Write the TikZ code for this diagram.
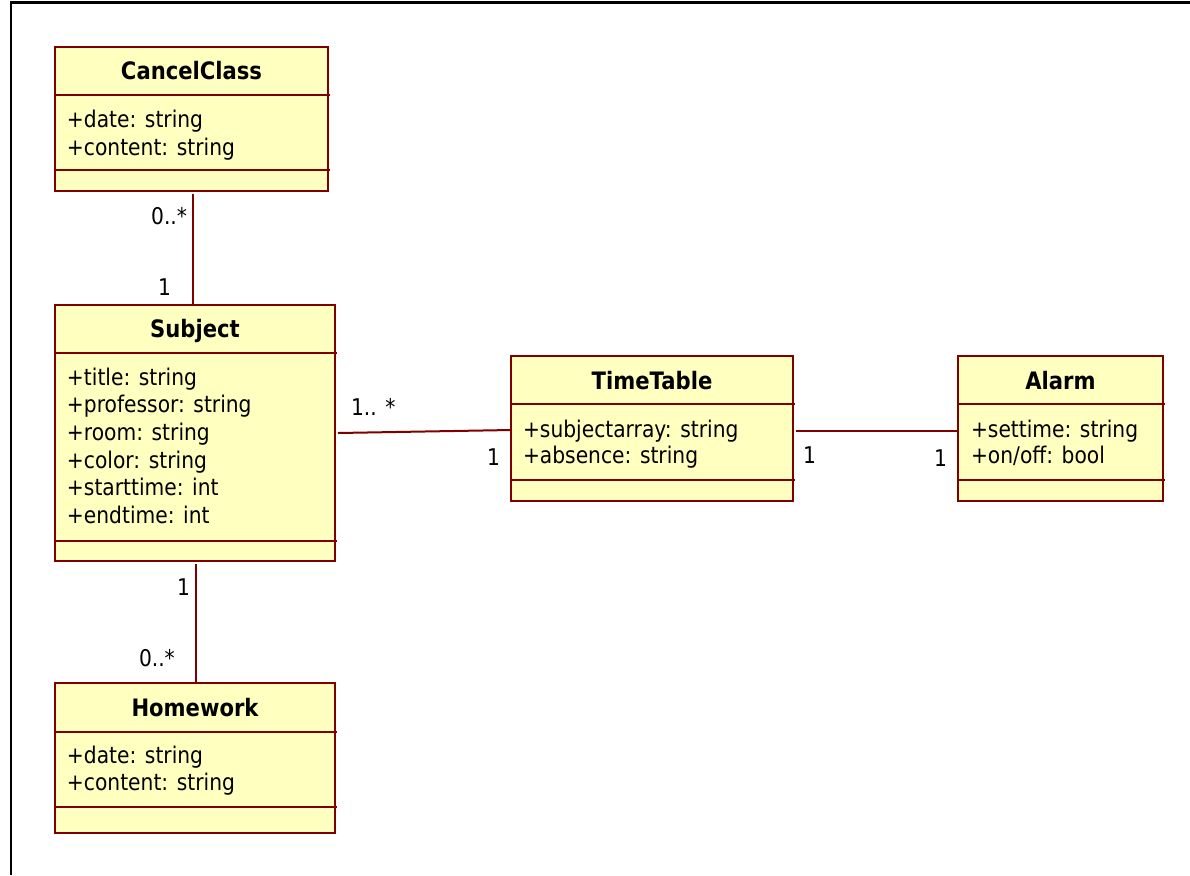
\documentclass[tikz,border=0pt]{standalone}
\usepackage{fontspec}
\setmainfont{DejaVu Sans}[FakeStretch=0.88]
\definecolor{umlred}{RGB}{128,0,0}
\definecolor{umlfill}{RGB}{255,255,192}

\begin{document}
\begin{tikzpicture}[x=0.5pt, y=-0.5pt,
  every node/.style={inner sep=0pt, outer sep=0pt, font=\fontsize{11.5}{13.8}\selectfont},
  classbox/.style={rectangle, draw=umlred, fill=umlfill, line width=1pt, anchor=north west},
  classline/.style={draw=umlred, line width=1pt},
  classname/.style={anchor=base, font=\fontsize{12}{14}\selectfont\bfseries},
  attr/.style={anchor=base west},
  mult/.style={anchor=base west}]
\useasboundingbox (0,0) rectangle (1190,875);
\draw[line width=1.5pt] (10,2) -- (1190,2);
\draw[line width=1pt] (11,2) -- (11,875);

\node[classbox, minimum width=136.5pt, minimum height=72pt] (cancel) at (55,47) {};
\node[classbox, minimum width=140pt, minimum height=128pt] (subject) at (55,305) {};
\node[classbox, minimum width=140pt, minimum height=75pt] (homework) at (55,683) {};
\node[classbox, minimum width=141pt, minimum height=72.5pt] (timetable) at (511,356) {};
\node[classbox, minimum width=102.5pt, minimum height=72.5pt] (alarm) at (958,356) {};

\draw[classline] (55,95) -- (330,95);
\draw[classline] (55,170) -- (330,170);
\draw[classline] (55,353) -- (337,353);
\draw[classline] (55,541) -- (337,541);
\draw[classline] (55,732) -- (337,732);
\draw[classline] (55,807) -- (337,807);
\draw[classline] (511,404) -- (795,404);
\draw[classline] (511,480) -- (795,480);
\draw[classline] (958,404) -- (1165,404);
\draw[classline] (958,480) -- (1165,480);

\node[classname] (cancel-name) at (191.5,79) {CancelClass};
\node[attr] (cancel-a1) at (67,127) {+date: string};
\node[attr] (cancel-a2) at (67,155) {+content: string};

\node[classname] (subject-name) at (195,337) {Subject};
\node[attr] (subject-a1) at (67,385) {+title: string};
\node[attr] (subject-a2) at (67,412) {+professor: string};
\node[attr] (subject-a3) at (67,440) {+room: string};
\node[attr] (subject-a4) at (67,468) {+color: string};
\node[attr] (subject-a5) at (67,495) {+starttime: int};
\node[attr] (subject-a6) at (67,523) {+endtime: int};

\node[classname] (homework-name) at (195,716) {Homework};
\node[attr] (homework-a1) at (67,763) {+date: string};
\node[attr] (homework-a2) at (67,790) {+content: string};

\node[classname] (timetable-name) at (652,389) {TimeTable};
\node[attr] (timetable-a1) at (523,437) {+subjectarray: string};
\node[attr] (timetable-a2) at (523,463) {+absence: string};

\node[classname] (alarm-name) at (1060.5,389) {Alarm};
\node[attr] (alarm-a1) at (971,437) {+settime: string};
\node[attr] (alarm-a2) at (971,463) {+on/off: bool};

\draw[classline] ([xshift=0.75pt, yshift=-1.5pt]cancel.south) -- ([xshift=-1pt]subject.north);
\draw[classline] ([xshift=0.5pt, yshift=-1.5pt]subject.south) -- ([xshift=0.5pt]homework.north);
\draw[classline] ([xshift=1.5pt]subject.east) -- ([yshift=-0.75pt]timetable.west);
\draw[classline] ([xshift=1.5pt, yshift=-1.25pt]timetable.east) -- ([yshift=-1.25pt]alarm.west);

\node[mult, anchor=base east] (m-cancel) at (187,224) {0..*};
\node[mult] (m-subject-top) at (158,295) {1};
\node[mult] (m-subject-bottom) at (177,595) {1};
\node[mult] (m-homework) at (139,666) {0..*};
\node[mult] (m-subject-right) at (351,415) {1.. *};
\node[mult] (m-timetable-left) at (487,465) {1};
\node[mult] (m-timetable-right) at (803,463) {1};
\node[mult] (m-alarm) at (934,466) {1};
\end{tikzpicture}
\end{document}
